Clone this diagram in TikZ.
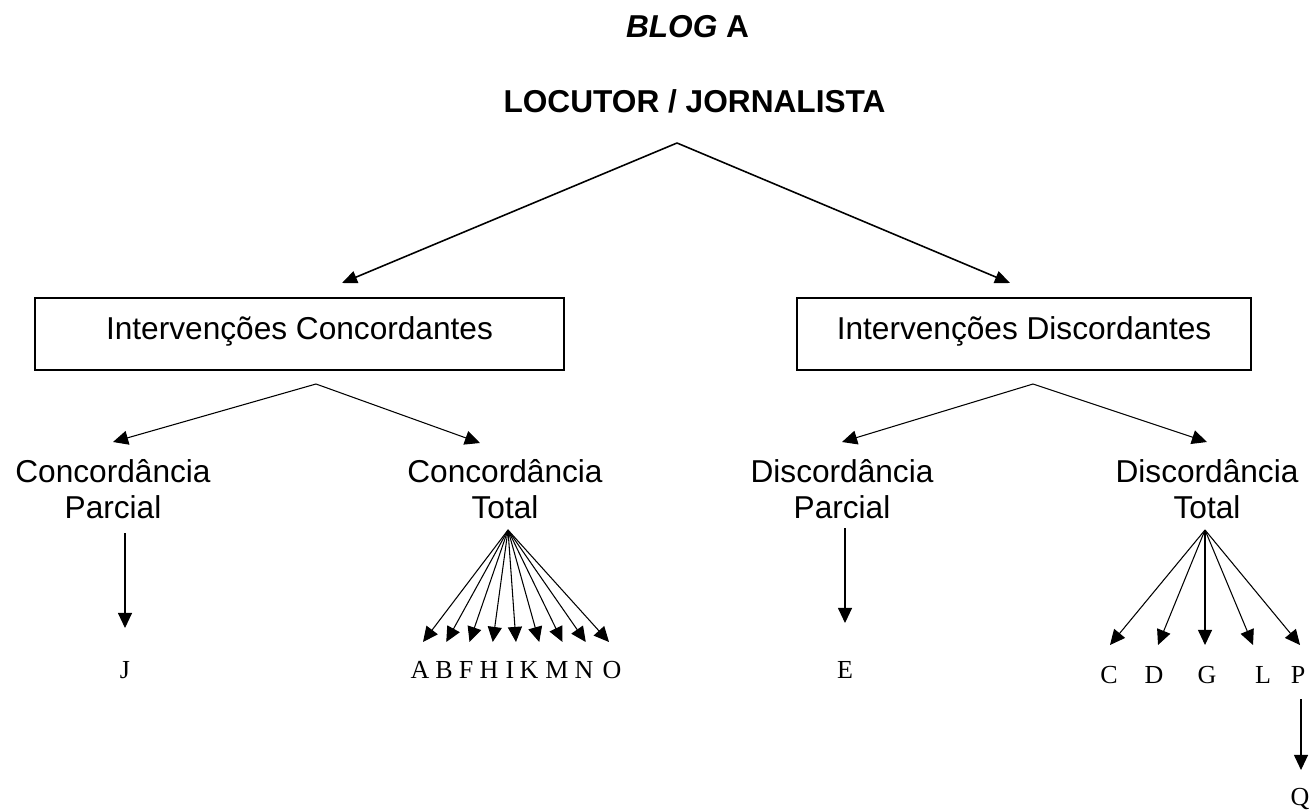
\documentclass[tikz,border=0pt]{standalone}
\usepackage{fontspec}
\usetikzlibrary{arrows.meta}
\newfontfamily\sansfam{Liberation Sans}
\newfontfamily\seriffam{Liberation Serif}
\begin{document}
\begin{tikzpicture}[x=0.2845pt,y=-0.2845pt,
  hdr/.style={font=\sansfam\bfseries\fontsize{9}{10.24}\selectfont, inner sep=0pt, anchor=base},
  lbl/.style={font=\sansfam\fontsize{9}{10.24}\selectfont, inner sep=0pt, align=center, anchor=base},
  box/.style={draw, line width=0.6pt, inner sep=0pt, minimum height=20.5pt,
    text height=6.43pt, text depth=3.58pt, font=\sansfam\fontsize{9}{10.24}\selectfont},
  letter/.style={font=\seriffam\fontsize{7.4}{8}\selectfont, inner sep=0pt, anchor=base},
  mainarrow/.style={-{Triangle[length=4.3pt,width=3.6pt]}, line width=0.45pt},
  subarrow/.style={-{Triangle[length=4.3pt,width=4pt]}, line width=0.3pt}]
\useasboundingbox[fill=white] (0,0) rectangle (1310,809);

% titles
\node[hdr] (blog) at (687.5,38) {\textit{BLOG} A};
\node[hdr] (loc) at (694.5,113) {LOCUTOR / JORNALISTA};

% first level boxes
\node[box, minimum width=150.5pt] (ic) at (299.5,334) {Intervenções Concordantes};
\node[box, minimum width=129.2pt] (id) at (1024,334) {Intervenções Discordantes};

\coordinate (top) at (677,143);
\coordinate (tipIC) at (342,283);
\coordinate (tipID) at (1010,283);
\draw[mainarrow] (top) -- (tipIC);
\draw[mainarrow] (top) -- (tipID);

% second level labels (anchored on the baseline of the last line)
\node[lbl] (cp) at (113,518) {Concordância\\Parcial};
\node[lbl] (ct) at (505,518) {Concordância\\Total};
\node[lbl] (dp) at (842,518) {Discordância\\Parcial};
\node[lbl] (dt) at (1207,518) {Discordância\\Total};

\coordinate (icApex) at (316,384);
\coordinate (idApex) at (1033,384);
\coordinate (cpTipA) at (113,442);
\coordinate (ctTipA) at (480,443);
\coordinate (dpTipA) at (842,442);
\coordinate (dtTipA) at (1207,442);
\draw[subarrow] (icApex) -- (cpTipA);
\draw[subarrow] (icApex) -- (ctTipA);
\draw[subarrow] (idApex) -- (dpTipA);
\draw[subarrow] (idApex) -- (dtTipA);

% letters
\node[letter] (J) at (125,678.5) {J};
\node[letter] (E) at (845,678.5) {E};
\foreach \n/\x in {A/420,B/444,F/466,H/489,I/510,K/529,M/557,N/584,O/612}
  \node[letter] (\n) at (\x,678.5) {\n};
\foreach \n/\x in {C/1109,D/1154,G/1207,L/1263,P/1298}
  \node[letter] (\n) at (\x,683.5) {\n};
\node[letter] (Q) at (1300,805) {Q};

% single arrows
\coordinate (cpStart) at (125,533);
\coordinate (cpEnd) at (125,628);
\draw[subarrow] (cpStart) -- (cpEnd);
\coordinate (dpStart) at (845,528);
\coordinate (dpEnd) at (845,623);
\draw[subarrow] (dpStart) -- (dpEnd);
\coordinate (pStart) at (1301,699);
\coordinate (pEnd) at (1301,770);
\draw[subarrow] (pStart) -- (pEnd);

% fans
\coordinate (ctApex) at (508,530);
\foreach \i in {0,...,8} {
  \coordinate (ctTip\i) at ({423+23.25*\i},642);
  \draw[subarrow] (ctApex) -- (ctTip\i);
}
\coordinate (dtApex) at (1205,530);
\foreach \i/\x in {0/1110,1/1158,2/1205,3/1253,4/1300} {
  \coordinate (dtTip\i) at (\x,645);
  \draw[subarrow] (dtApex) -- (dtTip\i);
}
\end{tikzpicture}
\end{document}
